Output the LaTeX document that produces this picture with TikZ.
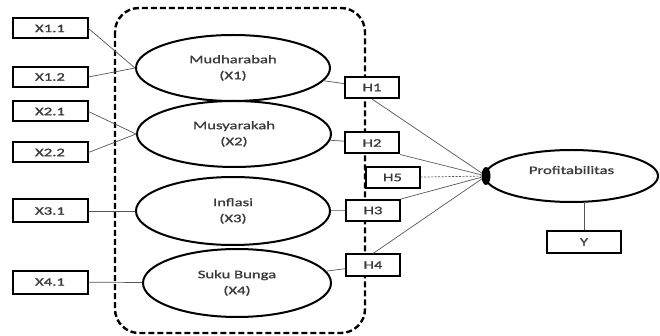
\documentclass[tikz,border=0pt]{standalone}
\usepackage{fontspec}
\newfontfamily\diagfont[FakeStretch=1.45, FakeBold=1.2]{Carlito}
\usetikzlibrary{shapes.geometric, backgrounds}
\definecolor{labelgray}{HTML}{3A3A3A}
\definecolor{pathgray}{HTML}{555555}

\begin{document}
\begin{tikzpicture}[
    x=1pt, y=-1pt,
    every node/.style={font=\diagfont\fontsize{11.5}{16}\selectfont, text=labelgray},
    indicator/.style={rectangle, draw, line width=2pt, fill=white, minimum width=75pt, minimum height=20pt, inner sep=0pt},
    latent/.style={ellipse, draw, line width=2pt, fill=white, minimum width=194pt, minimum height=66pt, align=center, inner sep=0pt},
    hyp/.style={rectangle, draw, line width=2pt, fill=white, minimum width=54pt, minimum height=21pt, inner sep=0pt},
    link/.style={draw=pathgray, line width=0.7pt},
]
    \useasboundingbox (0,0) rectangle (660,336);

    % indicators
    \node[indicator] (X11) at (50,28.5) {X1.1};
    \node[indicator] (X12) at (50,77) {X1.2};
    \node[indicator] (X21) at (50,111.5) {X2.1};
    \node[indicator] (X22) at (50,152.5) {X2.2};
    \node[indicator, minimum height=23pt] (X31) at (50,211) {X3.1};
    \node[indicator, minimum height=23pt] (X41) at (50,282) {X4.1};

    % latent variables
    \node[latent] (X1) at (233,68) {Mudharabah\\(X1)};
    \node[latent] (X2) at (234,134) {Musyarakah\\(X2)};
    \node[latent, minimum height=68pt] (X3) at (233,211) {Inflasi\\(X3)};
    \node[latent, minimum width=188pt, minimum height=68pt] (X4) at (237,283) {Suku Bunga\\(X4)};
    \node[latent, minimum width=173pt, minimum height=52pt, text depth=12pt] (profit) at (571.5,176) {Profitabilitas};
    \node[indicator, minimum width=74pt, minimum height=22pt] (Y) at (584,242) {Y};

    % hypotheses
    \node[hyp] (H1) at (372,87.5) {H1};
    \node[hyp] (H2) at (372,143) {H2};
    \node[hyp] (H5) at (392.5,177.5) {H5};
    \node[hyp] (H3) at (373,210.5) {H3};
    \node[hyp] (H4) at (373,265) {H4};
    \node[ellipse, fill=black, minimum width=9pt, minimum height=18pt, inner sep=0pt] (joint) at (486,176) {};

    \draw[link] (X11.east) -- (X1.west);
    \draw[link] (X12.east) -- (X1.west);
    \draw[link] (X21.east) -- (X2.west);
    \draw[link] (X22.east) -- (X2.west);
    \draw[link] (X31) -- (X3);
    \draw[link] (X41) -- (X4);

    \draw[link] (X1) -- (H1);
    \draw[link] (X2) -- (H2);
    \draw[link] (X3) -- (H3);
    \draw[link] (X4) -- (H4);

    \draw[link] (H1.south) -- (joint);
    \draw[link] (H2.south east) -- (joint);
    \draw[link, dash pattern=on 2pt off 1.5pt] (H5) -- (joint);
    \draw[link] (H3.north east) -- (joint);
    \draw[link] (H4.north) -- (joint);
    \draw[link] (Y.north) -- (Y.north |- profit.south);

    % dashed frame
    \begin{scope}[on background layer]
        \draw[line width=2.4pt, dash pattern=on 6pt off 3pt, rounded corners=24pt] (115,8) rectangle (365,333);
    \end{scope}
\end{tikzpicture}
\end{document}
